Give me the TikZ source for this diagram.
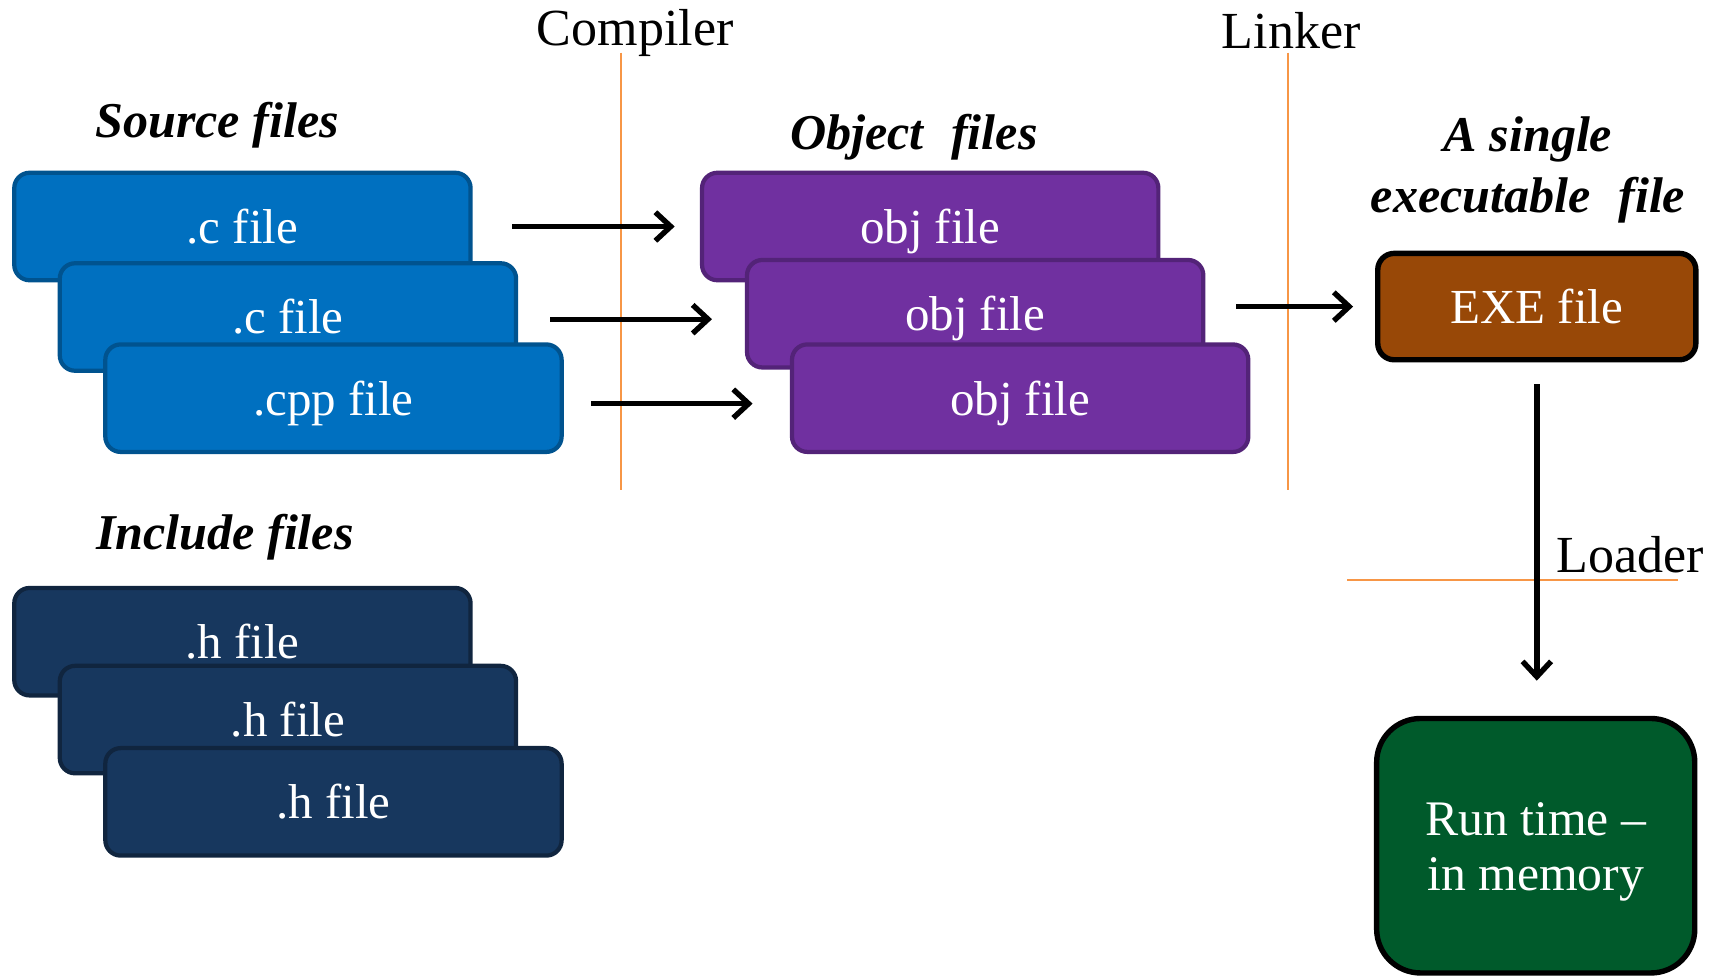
\documentclass[tikz,border=0pt]{standalone}
\usepackage{fontspec}
\setmainfont{Liberation Serif}
\usetikzlibrary{arrows.meta}

\definecolor{srcfill}{HTML}{0070C0}
\definecolor{srcline}{HTML}{00538F}
\definecolor{objfill}{HTML}{7030A0}
\definecolor{objline}{HTML}{532378}
\definecolor{incfill}{HTML}{17375E}
\definecolor{incline}{HTML}{10253F}
\definecolor{exefill}{HTML}{984807}
\definecolor{runfill}{HTML}{005A2B}
\definecolor{stageline}{HTML}{F79646}

\begin{document}
\begin{tikzpicture}[x=0.1mm, y=-0.1mm,
  filebox/.style={rectangle, rounded corners=1.4mm, minimum width=41.6mm,
    minimum height=9.8mm, line width=1.1pt, text=white, inner sep=0pt,
    text height=8.8pt, text depth=0pt, font=\fontsize{12.7}{15}\selectfont},
  srcbox/.style={filebox, fill=srcfill, draw=srcline},
  objbox/.style={filebox, fill=objfill, draw=objline},
  incbox/.style={filebox, fill=incfill, draw=incline},
  exebox/.style={filebox, minimum width=29mm, minimum height=9.7mm,
    rounded corners=1.5mm, fill=exefill, draw=black, line width=1.4pt},
  runbox/.style={rectangle, rounded corners=4mm, minimum width=29mm,
    minimum height=23.2mm, fill=runfill, draw=black, line width=1.4pt,
    text=white, align=center, inner sep=0pt, text height=23.2pt,
    text depth=0pt, font=\fontsize{12.9}{14.2}\selectfont},
  stage/.style={draw=stageline, line width=0.45pt},
  stagelabel/.style={inner sep=0pt, font=\fontsize{13.5}{15}\selectfont},
  grouplabel/.style={inner sep=0pt, align=center,
    font=\fontsize{13}{15}\selectfont\bfseries\itshape},
  flow/.style={draw=black, line width=1.4pt,
    -{Straight Barb[length=1.4mm, width=2.6mm]}}
]
\useasboundingbox (0,0) rectangle (1568,889);

% stage dividers and their labels
\node[stagelabel] (compiler) at (579,30) {Compiler};
\node[stagelabel] (linker) at (1177,28) {Linker};
\node[stagelabel] (loader) at (1486,506) {Loader};
\draw[stage] (566,48) -- (566,447);
\draw[stage] (1174,48) -- (1174,447);
\draw[stage] (1228,529) -- (1530,529);

% group headings
\node[grouplabel] (srchead) at (198,114) {Source files};
\node[grouplabel] (objhead) at (833,125) {Object\hspace{0.3em} files};
\node[grouplabel] (exehead) at (1393,155) {A single\\[1pt]executable\hspace{0.3em} file};
\node[grouplabel] (inchead) at (205,490) {Include files};

% source files
\node[srcbox] (s1) at (221,206.5) {.c file};
\node[srcbox] (s2) at (262.5,289) {.c file};
\node[srcbox] (s3) at (304,363) {.cpp file};

% object files
\node[objbox] (o1) at (848,206.5) {obj file};
\node[objbox] (o2) at (889,286) {obj file};
\node[objbox] (o3) at (930,363) {obj file};

% include files
\node[incbox] (h1) at (221,585) {.h file};
\node[incbox] (h2) at (262.5,656) {.h file};
\node[incbox] (h3) at (304,731) {.h file};

% executable and run time
\node[exebox] (exe) at (1401,279.5) {EXE file};
\node[runbox] (run) at (1400,771) {Run time –\\in memory};

% compile, link and load steps
\draw[flow, shorten <=3.6mm, shorten >=2.3mm] (s1.east) -- (s1.east -| o1.west);
\draw[flow, shorten <=2.9mm, shorten >=3.0mm] ([yshift=-0.2mm]s2.east) -- ([yshift=-0.2mm]s2.east -| o2.west);
\draw[flow, shorten <=2.5mm, shorten >=3.4mm] ([yshift=-0.5mm]s3.east) -- ([yshift=-0.5mm]s3.east -| o3.west);
\draw[flow, shorten <=2.8mm, shorten >=2.0mm] (o2.east |- exe.west) -- (exe.west);
\draw[flow, shorten <=2.0mm, shorten >=3.2mm] (exe.south) -- (exe.south |- run.north);
\end{tikzpicture}
\end{document}
